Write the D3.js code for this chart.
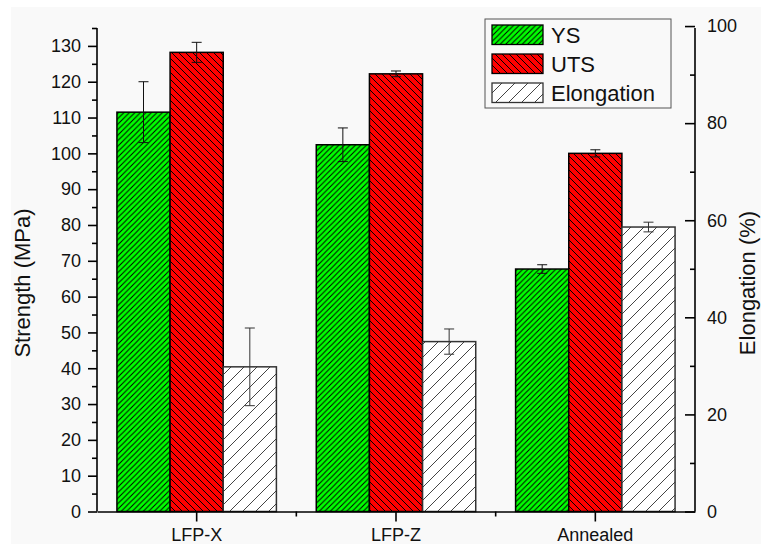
<!DOCTYPE html>
<html>
<head>
<meta charset="utf-8">
<script src="https://cdn.jsdelivr.net/npm/d3@7"></script>
<style>
	body { margin: 0; background: #ffffff; }
	svg { display: block; font-family: "Liberation Sans", Arial, sans-serif; }
</style>
</head>
<body>
<script>

var categories = ["LFP-X", "LFP-Z", "Annealed"],
	seriesNames = ["YS", "UTS", "Elongation"],
	ysValues = [111.5, 102.4, 67.7],
	ysErrors = [8.5, 4.7, 1.2],
	utsValues = [128.2, 122.2, 100.0],
	utsErrors = [2.8, 0.8, 1.0],
	elongValues = [29.8, 35.0, 58.6],
	elongErrors = [8.0, 2.6, 1.0],
	leftTicks = [0, 10, 20, 30, 40, 50, 60, 70, 80, 90, 100, 110, 120, 130],
	rightTicks = [0, 20, 40, 60, 80, 100];

var width = 761,
	height = 544,
	lPad = 97,
	rPos = 695,
	tPad = 28,
	bPos = 511.5;

var svg = d3.select("body")
	.append("svg")
	.attr("width", width)
	.attr("height", height);

// light grey page like the exported figure
svg.append("rect")
	.attr("x", 11)
	.attr("y", 7)
	.attr("width", width - 11)
	.attr("height", height - 7)
	.attr("fill", "#f9f9f9");

// hatch patterns
var defs = svg.append("defs");
function hatch(id, size, bg, stroke, sw, dir) {
	var p = defs.append("pattern")
		.attr("id", id)
		.attr("patternUnits", "userSpaceOnUse")
		.attr("width", size)
		.attr("height", size);
	p.append("rect").attr("width", size).attr("height", size).attr("fill", bg);
	var d;
	if (dir == "/") {
		d = "M0," + size + " L" + size + ",0 M-2,2 L2,-2 M" + (size - 2) + "," + (size + 2) + " L" + (size + 2) + "," + (size - 2);
	} else {
		d = "M0,0 L" + size + "," + size + " M-2," + (size - 2) + " L2," + (size + 2) + " M" + (size - 2) + ",-2 L" + (size + 2) + ",2";
	}
	p.append("path").attr("d", d).attr("stroke", stroke).attr("stroke-width", sw);
}
hatch("hYS", 5.5, "#00ff00", "#000", 1, "/");
hatch("hUTS", 7, "#ff0000", "#000", 1, "\\");
hatch("hEl", 13, "#ffffff", "#444", 1, "/");

var fills = ["url(#hYS)", "url(#hUTS)", "url(#hEl)"],
	borders = ["#000", "#000", "#333"];

// scales
var x0 = d3.scaleBand().domain(categories).range([lPad, rPos]).paddingInner(0).paddingOuter(0);
var x1 = d3.scaleBand().domain(seriesNames).range([x0.bandwidth() * 0.1, x0.bandwidth() * 0.9]);
var yL = d3.scaleLinear().domain([0, 135]).range([bPos, tPad]);
var yR = d3.scaleLinear().domain([0, 100]).range([bPos, bPos - (bPos - tPad) * 100 / 99.6]);

var rows = [];
for (var i = 0; i < categories.length; i++) {
	rows.push({cat: categories[i], s: "YS", v: ysValues[i], e: ysErrors[i], sc: yL, k: 0});
	rows.push({cat: categories[i], s: "UTS", v: utsValues[i], e: utsErrors[i], sc: yL, k: 1});
	rows.push({cat: categories[i], s: "Elongation", v: elongValues[i], e: elongErrors[i], sc: yR, k: 2});
}

var g = svg.append("g");
g.selectAll("rect.bar")
	.data(rows)
	.enter()
	.append("rect")
	.attr("class", "bar")
	.attr("x", function(d) { return x0(d.cat) + x1(d.s); })
	.attr("y", function(d) { return d.sc(d.v); })
	.attr("width", x1.bandwidth())
	.attr("height", function(d) { return bPos - d.sc(d.v); })
	.attr("fill", function(d) { return fills[d.k]; })
	.attr("stroke", function(d) { return borders[d.k]; })
	.attr("stroke-width", 1.5);

// error bars
var eb = g.selectAll("g.err")
	.data(rows)
	.enter()
	.append("g")
	.attr("class", "err")
	.attr("stroke", function(d) { return d.k == 2 ? "#333" : "#111"; })
	.attr("stroke-width", 1);
eb.append("line")
	.attr("x1", function(d) { return x0(d.cat) + x1(d.s) + x1.bandwidth() / 2; })
	.attr("x2", function(d) { return x0(d.cat) + x1(d.s) + x1.bandwidth() / 2; })
	.attr("y1", function(d) { return d.sc(d.v + d.e); })
	.attr("y2", function(d) { return d.sc(d.v - d.e); });
eb.selectAll("line.cap")
	.data(function(d) { return [{p: d, val: d.v + d.e}, {p: d, val: d.v - d.e}]; })
	.enter()
	.append("line")
	.attr("class", "cap")
	.attr("x1", function(c) { return x0(c.p.cat) + x1(c.p.s) + x1.bandwidth() / 2 - 5; })
	.attr("x2", function(c) { return x0(c.p.cat) + x1(c.p.s) + x1.bandwidth() / 2 + 5; })
	.attr("y1", function(c) { return c.p.sc(c.val); })
	.attr("y2", function(c) { return c.p.sc(c.val); });

// axes
var minorL = d3.range(5, 136, 10);
g.append("g")
	.attr("transform", "translate(" + lPad + ",0)")
	.call(d3.axisLeft(yL).tickValues(minorL).tickSize(5).tickFormat(""))
	.call(function(a) { a.select(".domain").remove(); });
var axL = g.append("g")
	.attr("transform", "translate(" + lPad + ",0)")
	.call(d3.axisLeft(yL).tickValues(leftTicks).tickSize(9).tickPadding(7).tickSizeOuter(0));

var minorR = d3.range(10, 100, 20);
g.append("g")
	.attr("transform", "translate(" + rPos + ",0)")
	.call(d3.axisRight(yR).tickValues(minorR).tickSize(-5).tickFormat(""))
	.call(function(a) { a.select(".domain").remove(); });
var axR = g.append("g")
	.attr("transform", "translate(" + rPos + ",0)")
	.call(d3.axisRight(yR).tickValues(rightTicks).tickSize(-10).tickPadding(12).tickSizeOuter(0));
axR.select(".domain").attr("d", "M0," + tPad + "V" + bPos);
axL.select(".domain").attr("d", "M0," + tPad + "V" + bPos);

var axB = g.append("g")
	.attr("transform", "translate(0," + bPos + ")")
	.call(d3.axisBottom(x0).tickSize(10).tickPadding(7).tickSizeOuter(0));
g.append("g")
	.attr("class", "minorB")
	.selectAll("line")
	.data(categories.slice(1))
	.enter()
	.append("line")
	.attr("x1", function(d) { return x0(d); })
	.attr("x2", function(d) { return x0(d); })
	.attr("y1", bPos)
	.attr("y2", bPos + 5)
	.attr("stroke", "#000");

[axL, axR, axB].forEach(function(a) {
	a.selectAll("path, line").attr("stroke", "#000").attr("stroke-width", 1.6);
	a.selectAll("text").attr("fill", "#111").style("font-size", "18px").style("font-family", "'Liberation Sans', Arial, sans-serif");
});
g.selectAll("line").filter(function() { return !this.closest(".err"); }).attr("stroke-width", 1.6);

// axis titles
svg.append("text")
	.attr("transform", "translate(30,283) rotate(-90)")
	.style("text-anchor", "middle")
	.style("font-size", "22px")
	.attr("fill", "#111")
	.text("Strength (MPa)");
svg.append("text")
	.attr("transform", "translate(755,283) rotate(-90)")
	.style("text-anchor", "middle")
	.style("font-size", "22px")
	.attr("fill", "#111")
	.text("Elongation (%)");

// legend
var lx = 485, ly = 19;
svg.append("rect")
	.attr("x", lx)
	.attr("y", ly)
	.attr("width", 186)
	.attr("height", 89)
	.attr("fill", "#f9f9f9")
	.attr("stroke", "#555")
	.attr("stroke-width", 1);
for (var s = 0; s < seriesNames.length; s++) {
	svg.append("rect")
		.attr("x", lx + 7)
		.attr("y", ly + 6 + s * 29)
		.attr("width", 51)
		.attr("height", 19.5)
		.attr("fill", fills[s])
		.attr("stroke", borders[s])
		.attr("stroke-width", 1.3);
	svg.append("text")
		.attr("x", lx + 66)
		.attr("y", ly + 23.5 + s * 29)
		.style("font-size", "22px")
		.attr("fill", "#111")
		.text(seriesNames[s]);
}

</script>
</body>
</html>
